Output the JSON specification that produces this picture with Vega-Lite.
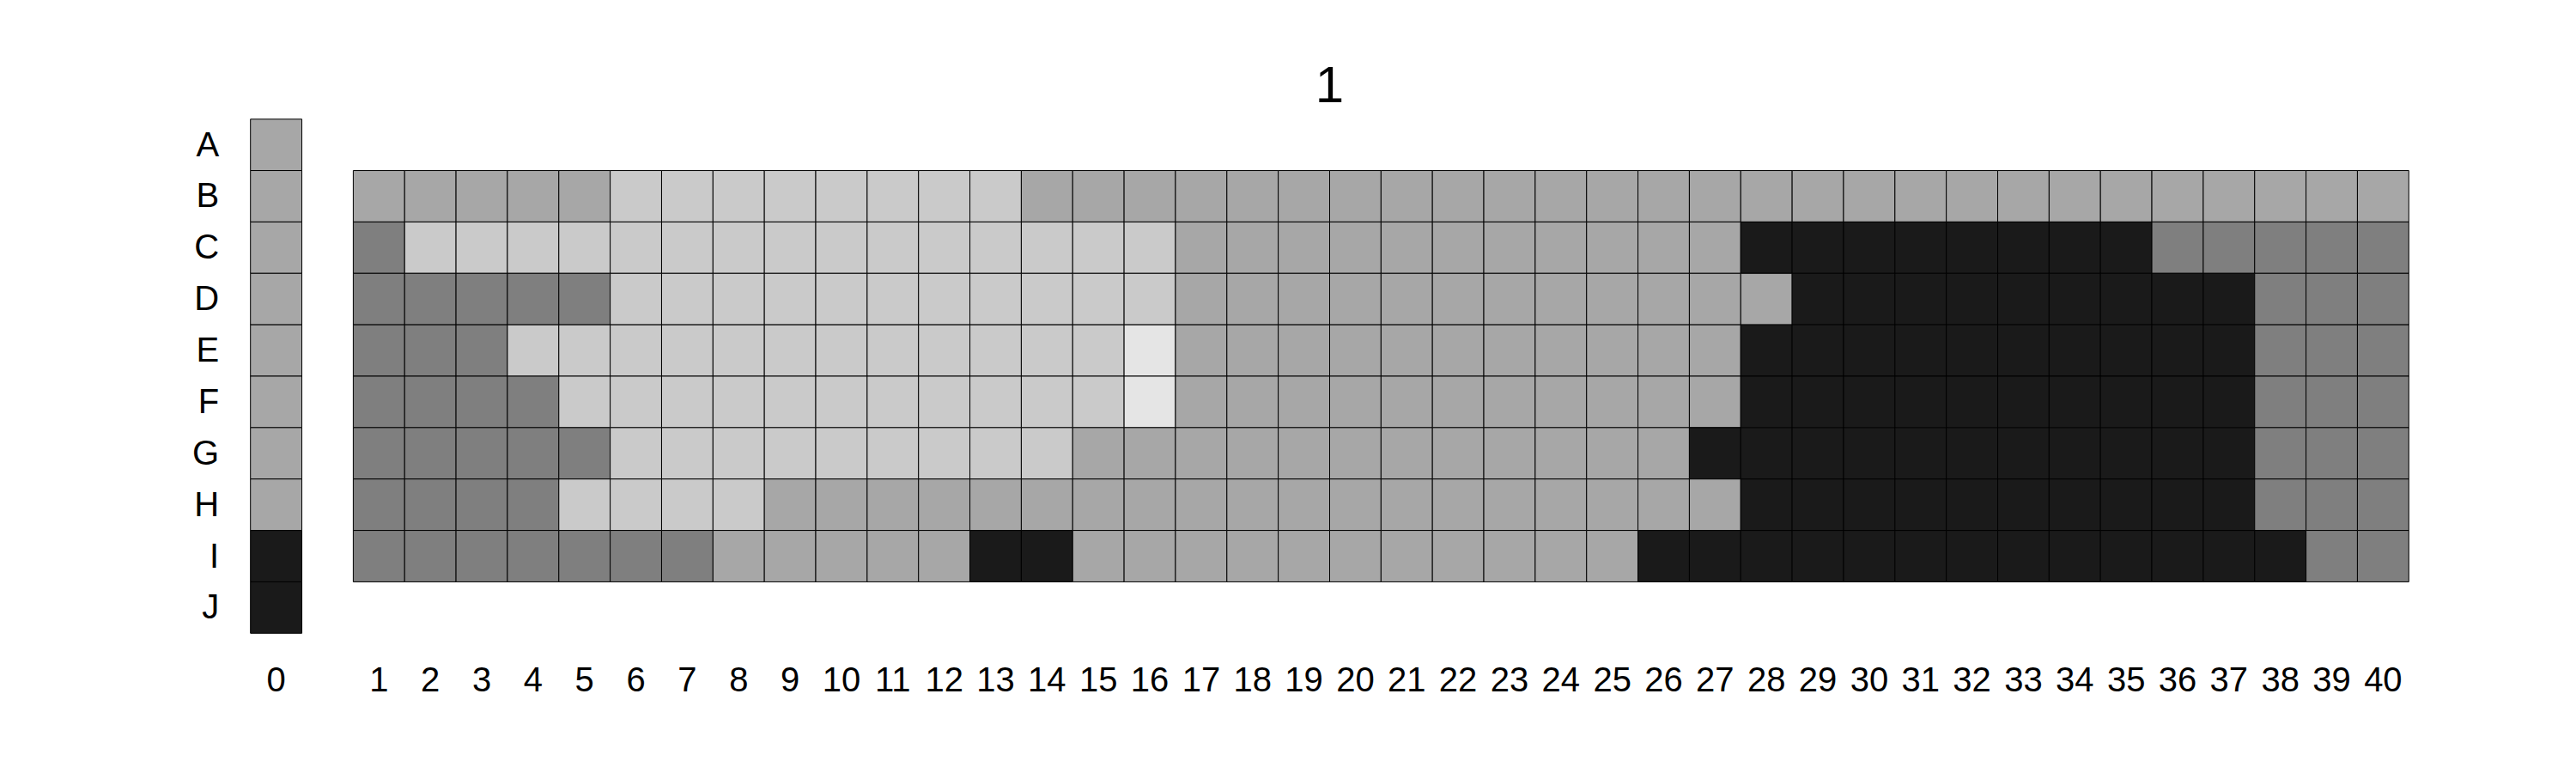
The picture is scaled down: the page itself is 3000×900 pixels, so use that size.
{
  "$schema": "https://vega.github.io/schema/vega-lite/v6.json",
  "autosize": {"type": "none"},
  "padding": {"left": 291.7, "top": 138.7, "right": 194.7, "bottom": 162.7},
  "width": 2513.6,
  "height": 598.6,
  "background": "white",
  "title": {
    "text": "1",
    "fontSize": 60,
    "font": "Liberation Sans",
    "fontWeight": "normal",
    "color": "black",
    "anchor": "middle",
    "frame": "group",
    "baseline": "alphabetic",
    "offset": -41
  },
  "config": {"view": {"stroke": null}},
  "data": {
    "values": [
      {"r":"A","c":"0","v":3},{"r":"B","c":"0","v":3},{"r":"C","c":"0","v":3},{"r":"D","c":"0","v":3},{"r":"E","c":"0","v":3},{"r":"F","c":"0","v":3},{"r":"G","c":"0","v":3},{"r":"H","c":"0","v":3},{"r":"I","c":"0","v":5},{"r":"J","c":"0","v":5},

      {"r":"B","c":"1","v":3},{"r":"B","c":"2","v":3},{"r":"B","c":"3","v":3},{"r":"B","c":"4","v":3},{"r":"B","c":"5","v":3},
      {"r":"B","c":"6","v":2},{"r":"B","c":"7","v":2},{"r":"B","c":"8","v":2},{"r":"B","c":"9","v":2},{"r":"B","c":"10","v":2},{"r":"B","c":"11","v":2},{"r":"B","c":"12","v":2},{"r":"B","c":"13","v":2},
      {"r":"B","c":"14","v":3},{"r":"B","c":"15","v":3},{"r":"B","c":"16","v":3},{"r":"B","c":"17","v":3},{"r":"B","c":"18","v":3},{"r":"B","c":"19","v":3},{"r":"B","c":"20","v":3},{"r":"B","c":"21","v":3},{"r":"B","c":"22","v":3},{"r":"B","c":"23","v":3},{"r":"B","c":"24","v":3},{"r":"B","c":"25","v":3},{"r":"B","c":"26","v":3},{"r":"B","c":"27","v":3},{"r":"B","c":"28","v":3},{"r":"B","c":"29","v":3},{"r":"B","c":"30","v":3},{"r":"B","c":"31","v":3},{"r":"B","c":"32","v":3},{"r":"B","c":"33","v":3},{"r":"B","c":"34","v":3},{"r":"B","c":"35","v":3},{"r":"B","c":"36","v":3},{"r":"B","c":"37","v":3},{"r":"B","c":"38","v":3},{"r":"B","c":"39","v":3},{"r":"B","c":"40","v":3},

      {"r":"C","c":"1","v":4},
      {"r":"C","c":"2","v":2},{"r":"C","c":"3","v":2},{"r":"C","c":"4","v":2},{"r":"C","c":"5","v":2},{"r":"C","c":"6","v":2},{"r":"C","c":"7","v":2},{"r":"C","c":"8","v":2},{"r":"C","c":"9","v":2},{"r":"C","c":"10","v":2},{"r":"C","c":"11","v":2},{"r":"C","c":"12","v":2},{"r":"C","c":"13","v":2},{"r":"C","c":"14","v":2},{"r":"C","c":"15","v":2},{"r":"C","c":"16","v":2},
      {"r":"C","c":"17","v":3},{"r":"C","c":"18","v":3},{"r":"C","c":"19","v":3},{"r":"C","c":"20","v":3},{"r":"C","c":"21","v":3},{"r":"C","c":"22","v":3},{"r":"C","c":"23","v":3},{"r":"C","c":"24","v":3},{"r":"C","c":"25","v":3},{"r":"C","c":"26","v":3},{"r":"C","c":"27","v":3},
      {"r":"C","c":"28","v":5},{"r":"C","c":"29","v":5},{"r":"C","c":"30","v":5},{"r":"C","c":"31","v":5},{"r":"C","c":"32","v":5},{"r":"C","c":"33","v":5},{"r":"C","c":"34","v":5},{"r":"C","c":"35","v":5},
      {"r":"C","c":"36","v":4},{"r":"C","c":"37","v":4},{"r":"C","c":"38","v":4},{"r":"C","c":"39","v":4},{"r":"C","c":"40","v":4},

      {"r":"D","c":"1","v":4},{"r":"D","c":"2","v":4},{"r":"D","c":"3","v":4},{"r":"D","c":"4","v":4},{"r":"D","c":"5","v":4},
      {"r":"D","c":"6","v":2},{"r":"D","c":"7","v":2},{"r":"D","c":"8","v":2},{"r":"D","c":"9","v":2},{"r":"D","c":"10","v":2},{"r":"D","c":"11","v":2},{"r":"D","c":"12","v":2},{"r":"D","c":"13","v":2},{"r":"D","c":"14","v":2},{"r":"D","c":"15","v":2},{"r":"D","c":"16","v":2},
      {"r":"D","c":"17","v":3},{"r":"D","c":"18","v":3},{"r":"D","c":"19","v":3},{"r":"D","c":"20","v":3},{"r":"D","c":"21","v":3},{"r":"D","c":"22","v":3},{"r":"D","c":"23","v":3},{"r":"D","c":"24","v":3},{"r":"D","c":"25","v":3},{"r":"D","c":"26","v":3},{"r":"D","c":"27","v":3},{"r":"D","c":"28","v":3},
      {"r":"D","c":"29","v":5},{"r":"D","c":"30","v":5},{"r":"D","c":"31","v":5},{"r":"D","c":"32","v":5},{"r":"D","c":"33","v":5},{"r":"D","c":"34","v":5},{"r":"D","c":"35","v":5},{"r":"D","c":"36","v":5},{"r":"D","c":"37","v":5},
      {"r":"D","c":"38","v":4},{"r":"D","c":"39","v":4},{"r":"D","c":"40","v":4},

      {"r":"E","c":"1","v":4},{"r":"E","c":"2","v":4},{"r":"E","c":"3","v":4},
      {"r":"E","c":"4","v":2},{"r":"E","c":"5","v":2},{"r":"E","c":"6","v":2},{"r":"E","c":"7","v":2},{"r":"E","c":"8","v":2},{"r":"E","c":"9","v":2},{"r":"E","c":"10","v":2},{"r":"E","c":"11","v":2},{"r":"E","c":"12","v":2},{"r":"E","c":"13","v":2},{"r":"E","c":"14","v":2},{"r":"E","c":"15","v":2},
      {"r":"E","c":"16","v":1},
      {"r":"E","c":"17","v":3},{"r":"E","c":"18","v":3},{"r":"E","c":"19","v":3},{"r":"E","c":"20","v":3},{"r":"E","c":"21","v":3},{"r":"E","c":"22","v":3},{"r":"E","c":"23","v":3},{"r":"E","c":"24","v":3},{"r":"E","c":"25","v":3},{"r":"E","c":"26","v":3},{"r":"E","c":"27","v":3},
      {"r":"E","c":"28","v":5},{"r":"E","c":"29","v":5},{"r":"E","c":"30","v":5},{"r":"E","c":"31","v":5},{"r":"E","c":"32","v":5},{"r":"E","c":"33","v":5},{"r":"E","c":"34","v":5},{"r":"E","c":"35","v":5},{"r":"E","c":"36","v":5},{"r":"E","c":"37","v":5},
      {"r":"E","c":"38","v":4},{"r":"E","c":"39","v":4},{"r":"E","c":"40","v":4},

      {"r":"F","c":"1","v":4},{"r":"F","c":"2","v":4},{"r":"F","c":"3","v":4},{"r":"F","c":"4","v":4},
      {"r":"F","c":"5","v":2},{"r":"F","c":"6","v":2},{"r":"F","c":"7","v":2},{"r":"F","c":"8","v":2},{"r":"F","c":"9","v":2},{"r":"F","c":"10","v":2},{"r":"F","c":"11","v":2},{"r":"F","c":"12","v":2},{"r":"F","c":"13","v":2},{"r":"F","c":"14","v":2},{"r":"F","c":"15","v":2},
      {"r":"F","c":"16","v":1},
      {"r":"F","c":"17","v":3},{"r":"F","c":"18","v":3},{"r":"F","c":"19","v":3},{"r":"F","c":"20","v":3},{"r":"F","c":"21","v":3},{"r":"F","c":"22","v":3},{"r":"F","c":"23","v":3},{"r":"F","c":"24","v":3},{"r":"F","c":"25","v":3},{"r":"F","c":"26","v":3},{"r":"F","c":"27","v":3},
      {"r":"F","c":"28","v":5},{"r":"F","c":"29","v":5},{"r":"F","c":"30","v":5},{"r":"F","c":"31","v":5},{"r":"F","c":"32","v":5},{"r":"F","c":"33","v":5},{"r":"F","c":"34","v":5},{"r":"F","c":"35","v":5},{"r":"F","c":"36","v":5},{"r":"F","c":"37","v":5},
      {"r":"F","c":"38","v":4},{"r":"F","c":"39","v":4},{"r":"F","c":"40","v":4},

      {"r":"G","c":"1","v":4},{"r":"G","c":"2","v":4},{"r":"G","c":"3","v":4},{"r":"G","c":"4","v":4},{"r":"G","c":"5","v":4},
      {"r":"G","c":"6","v":2},{"r":"G","c":"7","v":2},{"r":"G","c":"8","v":2},{"r":"G","c":"9","v":2},{"r":"G","c":"10","v":2},{"r":"G","c":"11","v":2},{"r":"G","c":"12","v":2},{"r":"G","c":"13","v":2},{"r":"G","c":"14","v":2},
      {"r":"G","c":"15","v":3},{"r":"G","c":"16","v":3},{"r":"G","c":"17","v":3},{"r":"G","c":"18","v":3},{"r":"G","c":"19","v":3},{"r":"G","c":"20","v":3},{"r":"G","c":"21","v":3},{"r":"G","c":"22","v":3},{"r":"G","c":"23","v":3},{"r":"G","c":"24","v":3},{"r":"G","c":"25","v":3},{"r":"G","c":"26","v":3},
      {"r":"G","c":"27","v":5},{"r":"G","c":"28","v":5},{"r":"G","c":"29","v":5},{"r":"G","c":"30","v":5},{"r":"G","c":"31","v":5},{"r":"G","c":"32","v":5},{"r":"G","c":"33","v":5},{"r":"G","c":"34","v":5},{"r":"G","c":"35","v":5},{"r":"G","c":"36","v":5},{"r":"G","c":"37","v":5},
      {"r":"G","c":"38","v":4},{"r":"G","c":"39","v":4},{"r":"G","c":"40","v":4},

      {"r":"H","c":"1","v":4},{"r":"H","c":"2","v":4},{"r":"H","c":"3","v":4},{"r":"H","c":"4","v":4},
      {"r":"H","c":"5","v":2},{"r":"H","c":"6","v":2},{"r":"H","c":"7","v":2},{"r":"H","c":"8","v":2},
      {"r":"H","c":"9","v":3},{"r":"H","c":"10","v":3},{"r":"H","c":"11","v":3},{"r":"H","c":"12","v":3},{"r":"H","c":"13","v":3},{"r":"H","c":"14","v":3},{"r":"H","c":"15","v":3},{"r":"H","c":"16","v":3},{"r":"H","c":"17","v":3},{"r":"H","c":"18","v":3},{"r":"H","c":"19","v":3},{"r":"H","c":"20","v":3},{"r":"H","c":"21","v":3},{"r":"H","c":"22","v":3},{"r":"H","c":"23","v":3},{"r":"H","c":"24","v":3},{"r":"H","c":"25","v":3},{"r":"H","c":"26","v":3},{"r":"H","c":"27","v":3},
      {"r":"H","c":"28","v":5},{"r":"H","c":"29","v":5},{"r":"H","c":"30","v":5},{"r":"H","c":"31","v":5},{"r":"H","c":"32","v":5},{"r":"H","c":"33","v":5},{"r":"H","c":"34","v":5},{"r":"H","c":"35","v":5},{"r":"H","c":"36","v":5},{"r":"H","c":"37","v":5},
      {"r":"H","c":"38","v":4},{"r":"H","c":"39","v":4},{"r":"H","c":"40","v":4},

      {"r":"I","c":"1","v":4},{"r":"I","c":"2","v":4},{"r":"I","c":"3","v":4},{"r":"I","c":"4","v":4},{"r":"I","c":"5","v":4},{"r":"I","c":"6","v":4},{"r":"I","c":"7","v":4},
      {"r":"I","c":"8","v":3},{"r":"I","c":"9","v":3},{"r":"I","c":"10","v":3},{"r":"I","c":"11","v":3},{"r":"I","c":"12","v":3},
      {"r":"I","c":"13","v":5},{"r":"I","c":"14","v":5},
      {"r":"I","c":"15","v":3},{"r":"I","c":"16","v":3},{"r":"I","c":"17","v":3},{"r":"I","c":"18","v":3},{"r":"I","c":"19","v":3},{"r":"I","c":"20","v":3},{"r":"I","c":"21","v":3},{"r":"I","c":"22","v":3},{"r":"I","c":"23","v":3},{"r":"I","c":"24","v":3},{"r":"I","c":"25","v":3},
      {"r":"I","c":"26","v":5},{"r":"I","c":"27","v":5},{"r":"I","c":"28","v":5},{"r":"I","c":"29","v":5},{"r":"I","c":"30","v":5},{"r":"I","c":"31","v":5},{"r":"I","c":"32","v":5},{"r":"I","c":"33","v":5},{"r":"I","c":"34","v":5},{"r":"I","c":"35","v":5},{"r":"I","c":"36","v":5},{"r":"I","c":"37","v":5},{"r":"I","c":"38","v":5},
      {"r":"I","c":"39","v":4},{"r":"I","c":"40","v":4}
    ]
  },
  "mark": {"type": "rect", "stroke": "black", "strokeWidth": 1},
  "encoding": {
    "x": {
      "field": "c",
      "type": "ordinal",
      "scale": {
        "domain": ["0","_","1","2","3","4","5","6","7","8","9","10","11","12","13","14","15","16","17","18","19","20","21","22","23","24","25","26","27","28","29","30","31","32","33","34","35","36","37","38","39","40"],
        "paddingInner": 0,
        "paddingOuter": 0
      },
      "axis": {
        "orient": "bottom",
        "title": null,
        "domain": false,
        "ticks": false,
        "tickSize": 0,
        "labelAngle": 0,
        "labelFont": "Liberation Sans",
        "labelFontSize": 40,
        "labelColor": "black",
        "labelPadding": 35,
        "labelExpr": "datum.value == '_' ? '' : datum.value"
      }
    },
    "y": {
      "field": "r",
      "type": "ordinal",
      "scale": {
        "domain": ["A","B","C","D","E","F","G","H","I","J"],
        "paddingInner": 0,
        "paddingOuter": 0
      },
      "axis": {
        "title": null,
        "domain": false,
        "ticks": false,
        "tickSize": 0,
        "labelFont": "Liberation Sans",
        "labelFontSize": 40,
        "labelColor": "black",
        "labelPadding": 37,
        "labelOffset": 1
      }
    },
    "color": {
      "field": "v",
      "type": "ordinal",
      "scale": {
        "domain": [1, 2, 3, 4, 5],
        "range": ["#E5E5E5", "#CACACA", "#A7A7A7", "#7F7F7F", "#1A1A1A"]
      },
      "legend": null
    }
  }
}
